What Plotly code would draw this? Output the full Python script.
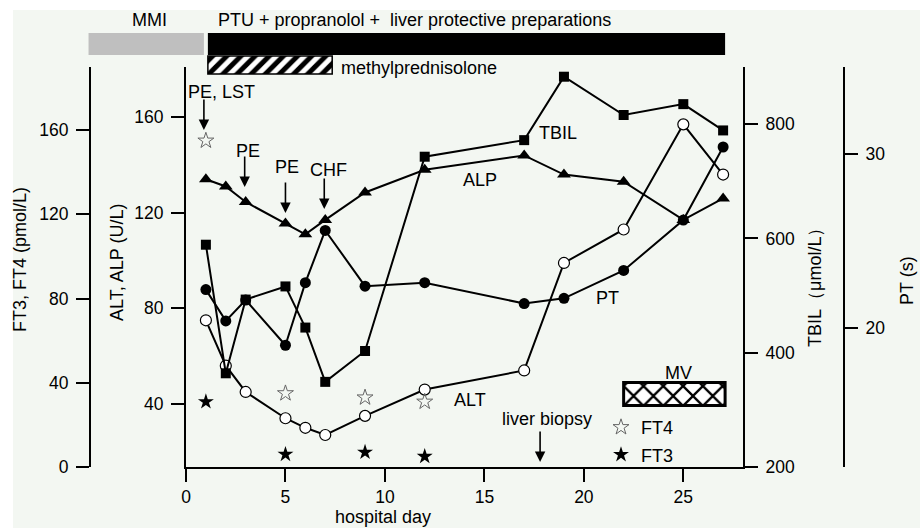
import plotly.graph_objects as go

W, H = 920, 528

# ---------------- data ----------------
days = [1, 2, 3, 5, 6, 7, 9, 12, 17, 19, 22, 25, 27]
alt_vals = [75, 56, 45, 34, 30, 27, 35, 46, 54, 99, 113, 157, 136]
alp_vals = [134, 131, 124.5, 115.5, 111, 117, 128.5, 138, 144, 136, 133, 117, 126]
tbil_vals = [589, 364, 493, 516, 444, 349, 403, 743, 772, 883, 816, 835, 789]
pt_vals = [22.2, 20.4, 21.6, 19.0, 22.6, 25.6, 22.4, 22.6, 21.4, 21.7, 23.3, 26.2, 30.4]

ft_days = [1, 5, 9, 12]
ft4_vals = [155, 35, 33, 31]
ft3_vals = [31, 6, 7, 5]

treatments = ["MMI", "PTU + propranolol +  liver protective preparations",
              "methylprednisolone", "MV"]
treat_start = [-4.9, 1.1, 1.1, 22.0]
treat_end = [0.9, 27.1, 7.35, 27.1]

event_labels = ["PE, LST", "PE", "PE", "CHF", "liver biopsy"]
event_days = [0.9, 2.95, 5.0, 6.95, 17.8]

x_ticks = [0, 5, 10, 15, 20, 25]
alt_ticks = [40, 80, 120, 160]
ft_ticks = [0, 40, 80, 120, 160]
tbil_ticks = [200, 400, 600, 800]
pt_ticks = [20, 30]

# ---------------- geometry / style ----------------
FONT = "Arial, Liberation Sans, Helvetica, sans-serif"
FS = 18
TFS = 17.5
BG = "#f3f7f2"
PLOT_L, PLOT_R, PLOT_T, PLOT_B = 186, 743, 67, 467
X_RANGE = [0, 28]


def fx(p):
    return p / W


def fy(p):
    return 1 - p / H


x_dom = [fx(PLOT_L), fx(PLOT_R)]
y_dom = [fy(PLOT_B), fy(PLOT_T)]
ppd = (PLOT_R - PLOT_L) / (X_RANGE[1] - X_RANGE[0])
x2_range = [X_RANGE[0] - PLOT_L / ppd, X_RANGE[1] + (W - PLOT_R) / ppd]

LINE = dict(color="black", width=2)

fig = go.Figure()

# ---- treatment timeline bars (x2 spans the whole page with same day scale) ----
rows = [(44, 22), (44, 22), (65, 18), (394, 23)]
bar_markers = [
    dict(color="#bfbfbf", line=dict(width=0)),
    dict(color="black", line=dict(width=0)),
    dict(color="white", line=dict(color="black", width=1.5),
         pattern=dict(shape="/", fgcolor="black", bgcolor="white", size=10, solidity=0.5)),
    dict(color="white", line=dict(color="black", width=3),
         pattern=dict(shape="x", fgcolor="black", bgcolor="white", size=14, solidity=0.3)),
]
for name, s, e, (rc, rh), mk in zip(treatments, treat_start, treat_end, rows, bar_markers):
    fig.add_trace(go.Bar(
        orientation="h", y=[rc], x=[e - s], base=[s], width=rh,
        marker=mk, xaxis="x2", yaxis="y5", showlegend=False, hoverinfo="skip",
        name=name,
    ))

# ---- series ----
fig.add_trace(go.Scatter(x=days, y=alp_vals, mode="lines+markers", name="ALP",
                         line=LINE, marker=dict(symbol="triangle-up", size=12, color="black"),
                         xaxis="x", yaxis="y", showlegend=False))
fig.add_trace(go.Scatter(x=days, y=alt_vals, mode="lines+markers", name="ALT",
                         line=LINE, marker=dict(symbol="circle", size=11, color="white",
                                                line=dict(color="black", width=1.2)),
                         xaxis="x", yaxis="y", showlegend=False))
fig.add_trace(go.Scatter(x=ft_days, y=ft4_vals, mode="markers", name="FT4",
                         marker=dict(symbol="star-open", size=12, color="#666666",
                                     line=dict(width=1)),
                         xaxis="x", yaxis="y2", legendgroup="a"))
fig.add_trace(go.Scatter(x=ft_days, y=ft3_vals, mode="markers", name="FT3",
                         marker=dict(symbol="star", size=12, color="black"),
                         xaxis="x", yaxis="y2", legendgroup="b"))
fig.add_trace(go.Scatter(x=days, y=pt_vals, mode="lines+markers", name="PT",
                         line=LINE, marker=dict(symbol="circle", size=11, color="black"),
                         xaxis="x", yaxis="y3", showlegend=False))
fig.add_trace(go.Scatter(x=days, y=tbil_vals, mode="lines+markers", name="TBIL",
                         line=LINE, marker=dict(symbol="square", size=10, color="black"),
                         xaxis="x", yaxis="y4", showlegend=False))

axis_common = dict(showline=True, linecolor="black", linewidth=2, ticks="outside",
                   ticklen=13, tickwidth=2, tickcolor="black", showgrid=False,
                   zeroline=False, tickfont=dict(family=FONT, size=TFS, color="black"))
yaxis_common = dict(axis_common, ticklabelstandoff=4)

annotations = []


def txt(text, x, y, xanchor="center", angle=0, size=FS):
    annotations.append(dict(text=text, x=fx(x), y=fy(y), xref="paper", yref="paper",
                            xanchor=xanchor, yanchor="middle", showarrow=False,
                            textangle=angle, font=dict(family=FONT, size=size, color="black")))


# treatment labels
txt(treatments[0], 149, 20)
txt(treatments[1], 216, 20, xanchor="left")
txt(treatments[2], 339, 68, xanchor="left")
txt(treatments[3], 678, 373)
# series labels
txt("TBIL", 558, 133)
txt("ALP", 480, 180)
txt("PT", 607, 298)
txt("ALT", 470, 400)
# axis titles
txt("FT3, FT4 (pmol/L)", 20, 260, angle=-90)
txt("ALT, ALP (U/L)", 117, 262, angle=-90)
txt("TBIL（μmol/L）", 815, 283, angle=-90)
txt("PT (s)", 907, 281, angle=-90)
txt("hospital day", 383, 517)

# events: labels and arrows
label_pos = [(221, 92), (248, 151), (287, 167), (328, 170), (547, 419)]
arrow_heads = [130, 187, 213, 209, 462]
for lab, d, (lx, ly), hy in zip(event_labels, event_days, label_pos, arrow_heads):
    txt(lab, lx, ly)
    annotations.append(dict(text="", x=d, y=fy(hy), xref="x", yref="paper",
                            ax=0, ay=-32, showarrow=True, arrowhead=2, arrowsize=1.3,
                            arrowwidth=1.6, arrowcolor="black", standoff=0))

fig.update_layout(
    width=W, height=H, autosize=False,
    margin=dict(l=0, r=0, t=0, b=0, pad=0),
    template="none",
    paper_bgcolor="white", plot_bgcolor="rgba(0,0,0,0)",
    font=dict(family=FONT, size=FS, color="black"),
    xaxis=dict(domain=x_dom, range=X_RANGE, tickvals=x_ticks, anchor="y", **axis_common),
    yaxis=dict(domain=y_dom, range=[13.6, 181], tickvals=alt_ticks, anchor="x",
               side="left", **yaxis_common),
    yaxis2=dict(overlaying="y", range=[0, 190], tickvals=ft_ticks, anchor="free",
                position=fx(90), side="left", **yaxis_common),
    yaxis3=dict(overlaying="y", range=[12, 35], tickvals=pt_ticks, anchor="free",
                position=fx(844), side="right", **yaxis_common),
    yaxis4=dict(overlaying="y", range=[200, 900], tickvals=tbil_ticks, anchor="x",
                side="right", **yaxis_common),
    xaxis2=dict(domain=[0, 1], range=x2_range, anchor="y5", visible=False, fixedrange=True),
    yaxis5=dict(domain=[0, 1], range=[H, 0], anchor="x2", visible=False, fixedrange=True),
    barmode="overlay",
    showlegend=True,
    legend=dict(x=fx(601), y=fy(409), xanchor="left", yanchor="top",
                bgcolor="rgba(0,0,0,0)", font=dict(family=FONT, size=FS),
                tracegroupgap=1, itemwidth=30),
    annotations=annotations,
    shapes=[dict(type="rect", xref="paper", yref="paper", x0=fx(13), x1=1, y0=0, y1=fy(10),
                 fillcolor=BG, line=dict(width=0), layer="below")],
)

fig.write_html("out.html", config={"displayModeBar": False},
               post_script="document.body.style.margin='0';")
